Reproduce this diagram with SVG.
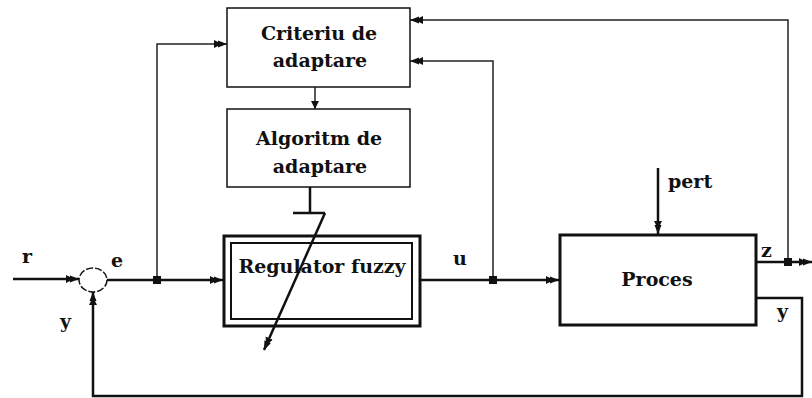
<svg xmlns="http://www.w3.org/2000/svg" width="812" height="398" viewBox="0 0 812 398">
<style>
  .lbl { font-family: "DejaVu Serif", "Liberation Serif", serif; font-weight: bold; font-size: 19px; fill: #111; }
  .box-thin { fill: #fff; stroke: #111; stroke-width: 1.5; }
  .box-thick { fill: #fff; stroke: #111; stroke-width: 3; }
  .wire { fill: none; stroke: #111; stroke-width: 2.5; }
  .wire-thin { fill: none; stroke: #222; stroke-width: 1.5; }
  .dot { fill: #111; }
</style>
<defs>
  <marker id="arr" viewBox="0 0 13 10" refX="13" refY="5" markerWidth="13" markerHeight="10" markerUnits="userSpaceOnUse" orient="auto">
    <path d="M0,1 L4,3 L4,1.5 L13,5 L4,8.5 L4,7 L0,9 Z" fill="#111"/>
  </marker>
  <marker id="arrs" viewBox="0 0 8 8" refX="8" refY="4" markerWidth="8" markerHeight="8" markerUnits="userSpaceOnUse" orient="auto">
    <path d="M0,0 L8,4 L0,8 Z" fill="#111"/>
  </marker>
</defs>
<rect width="812" height="398" fill="#fff"/>

<g id="sum">
  <ellipse cx="93" cy="280" rx="14" ry="12" fill="#fff" stroke="#111" stroke-width="1.5" stroke-dasharray="7 2"/>
</g>

<g id="criteriu">
  <rect class="box-thin" x="227" y="8" width="183" height="79"/>
  <text class="lbl" x="319" y="40" text-anchor="middle">Criteriu de</text>
  <text class="lbl" x="320" y="67" text-anchor="middle">adaptare</text>
</g>

<g id="algoritm">
  <rect class="box-thin" x="227" y="109" width="183" height="78"/>
  <text class="lbl" x="319" y="145" text-anchor="middle">Algoritm de</text>
  <text class="lbl" x="320" y="173" text-anchor="middle">adaptare</text>
</g>

<g id="regulator">
  <rect class="box-thick" x="224" y="236" width="196" height="90"/>
  <rect x="231" y="243" width="181" height="76" fill="none" stroke="#111" stroke-width="2"/>
  <text class="lbl" x="322" y="273" text-anchor="middle">Regulator fuzzy</text>
</g>

<g id="proces">
  <rect class="box-thick" x="560" y="235" width="196" height="90"/>
  <text class="lbl" x="657" y="286" text-anchor="middle">Proces</text>
</g>

<g id="connectors">
  <path class="wire" d="M13,279 L79,279" marker-end="url(#arr)"/>
  <path class="wire" d="M107,280 L223,280" marker-end="url(#arr)"/>
  <path class="wire-thin" d="M157,280 L157,44 L227,44" marker-end="url(#arr)"/>
  <path class="wire" d="M421,280 L559,280" marker-end="url(#arr)"/>
  <path class="wire-thin" d="M493,280 L493,61 L410,61" marker-end="url(#arr)"/>
  <path class="wire" d="M757,262 L812,262" marker-end="url(#arr)"/>
  <path class="wire-thin" d="M788,262 L788,20 L410,20" marker-end="url(#arr)"/>
  <path class="wire" d="M658,168 L658,234" marker-end="url(#arr)"/>
  <path class="wire" d="M757,298 L802,298 L802,396 L93,396 L93,292" marker-end="url(#arr)"/>
  <path class="wire-thin" d="M315,87 L315,109" marker-end="url(#arrs)"/>
  <path class="wire" d="M310,187 L310,213 M293,213 L325,213"/>
  <path class="wire" d="M325,213 L264,350" marker-end="url(#arr)"/>
  <rect class="dot" x="153" y="276" width="8" height="8"/>
  <rect class="dot" x="489" y="276" width="8" height="8"/>
  <rect class="dot" x="784" y="258" width="8" height="8"/>
</g>

<g id="labels">
  <text class="lbl" x="22" y="263">r</text>
  <text class="lbl" x="111" y="267">e</text>
  <text class="lbl" x="60" y="328">y</text>
  <text class="lbl" x="453" y="265">u</text>
  <text class="lbl" x="668" y="188">pert</text>
  <text class="lbl" x="761" y="257">z</text>
  <text class="lbl" x="777" y="318">y</text>
</g>
</svg>
